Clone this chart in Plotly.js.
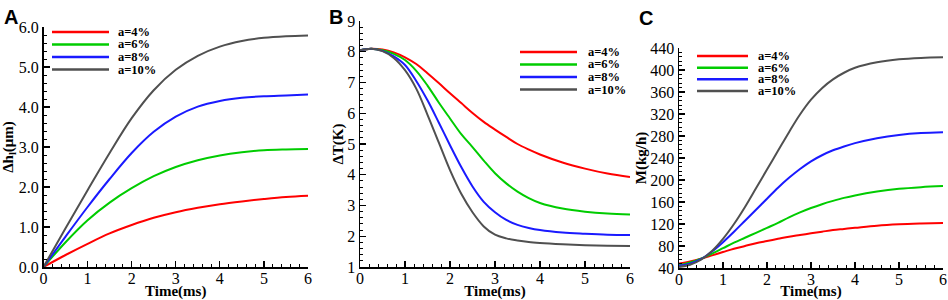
<!DOCTYPE html>
<html>
<head>
<meta charset="utf-8">
<script src="https://cdn.plot.ly/plotly-3.0.1.min.js"></script>
<style>html,body{margin:0;padding:0;background:#fff;}#chart{width:948px;height:300px;}</style>
</head>
<body>
<div id="chart"></div>
<script>
// ---------- data ----------
const seriesLabels = ["a=4%", "a=6%", "a=8%", "a=10%"];
const seriesColors = ["#ff0000", "#00cc00", "#1a1aff", "#505050"];

// Panel A: Δh_l (μm) vs time (ms)
const timeA = [0, 0.5, 1, 1.5, 2, 2.5, 3, 3.5, 4, 4.5, 5, 5.5, 6];
const dhA4  = [0, 0.30, 0.58, 0.84, 1.05, 1.23, 1.37, 1.48, 1.57, 1.64, 1.70, 1.75, 1.78];
const dhA6  = [0, 0.62, 1.17, 1.61, 1.97, 2.27, 2.50, 2.67, 2.79, 2.87, 2.92, 2.94, 2.95];
const dhA8  = [0, 0.76, 1.50, 2.20, 2.85, 3.38, 3.76, 4.01, 4.15, 4.23, 4.27, 4.29, 4.31];
const dhA10 = [0, 0.97, 1.92, 2.85, 3.72, 4.42, 4.93, 5.28, 5.51, 5.65, 5.73, 5.77, 5.79];

// Panel B: ΔT (K) vs time (ms)
const timeB = [0, 0.25, 0.5, 0.75, 1, 1.25, 1.5, 1.75, 2, 2.25, 2.5, 2.75, 3, 3.25, 3.5, 3.75, 4, 4.5, 5, 5.5, 6];
const dtB4  = [8.05, 8.10, 8.07, 7.98, 7.82, 7.60, 7.30, 6.98, 6.65, 6.33, 6.01, 5.72, 5.47, 5.23, 5.00, 4.82, 4.66, 4.40, 4.20, 4.04, 3.93];
const dtB6  = [8.05, 8.10, 8.05, 7.93, 7.73, 7.38, 6.90, 6.35, 5.83, 5.32, 4.90, 4.46, 4.05, 3.72, 3.45, 3.24, 3.08, 2.90, 2.80, 2.74, 2.71];
const dtB8  = [8.05, 8.10, 8.03, 7.85, 7.57, 7.05, 6.42, 5.70, 4.96, 4.25, 3.62, 3.12, 2.78, 2.53, 2.37, 2.27, 2.20, 2.12, 2.08, 2.05, 2.04];
const dtB10 = [8.05, 8.10, 8.02, 7.80, 7.40, 6.80, 5.95, 5.05, 4.15, 3.38, 2.78, 2.32, 2.05, 1.93, 1.86, 1.81, 1.78, 1.74, 1.71, 1.69, 1.68];

// Panel C: M (kg/h) vs time (ms)
const timeC = [0, 0.25, 0.5, 0.75, 1, 1.25, 1.5, 1.75, 2, 2.25, 2.5, 2.75, 3, 3.25, 3.5, 3.75, 4, 4.5, 5, 5.5, 6];
const mC4  = [48, 52, 57, 63, 69, 75, 80, 85, 89, 93, 97, 100, 103, 106, 109, 111, 113, 117, 119.5, 121, 122];
const mC6  = [45, 50, 57, 66, 76, 86, 95, 104, 113, 122, 132, 141, 149, 156, 162, 167.5, 172, 179, 184, 187, 189];
const mC8  = [44, 48, 56, 70, 87, 106, 126, 146, 166, 186, 204, 220, 234, 245, 254, 261, 267, 276, 282, 285.5, 287];
const mC10 = [42, 46, 55, 71, 93, 120, 151, 185, 219, 253, 287, 319, 346, 367, 383, 395, 404, 414, 419.5, 422, 423];

// tick labels
const tickTime = [0, 1, 2, 3, 4, 5, 6];
const tickA = [0, 1, 2, 3, 4, 5, 6];
const tickB = [1, 2, 3, 4, 5, 6, 7, 8, 9];
const tickC = [40, 80, 120, 160, 200, 240, 280, 320, 360, 400, 440];

// ---------- build ----------
const W = 948, H = 300;
const px = v => v / W;
const py = v => 1 - v / H;

const panels = [
  {x: timeA, ys: [dhA4, dhA6, dhA8, dhA10], xa: 'x', ya: 'y'},
  {x: timeB, ys: [dtB4, dtB6, dtB8, dtB10], xa: 'x2', ya: 'y2'},
  {x: timeC, ys: [mC4, mC6, mC8, mC10], xa: 'x3', ya: 'y3'}
];

const traces = [];
panels.forEach(p => {
  p.ys.forEach((y, i) => {
    traces.push({
      type: 'scatter', mode: 'lines', x: p.x, y: y,
      xaxis: p.xa, yaxis: p.ya, name: seriesLabels[i],
      line: {color: seriesColors[i], width: 2, shape: 'spline', smoothing: 1},
      showlegend: false, hoverinfo: 'x+y'
    });
  });
});

const tickFont = {family: 'Liberation Serif, Times New Roman, serif', size: 16, color: '#000'};
const titleFont = {family: 'Liberation Serif, Times New Roman, serif', size: 15, color: '#000', weight: 'bold'};

function xAxis(dom, anchor) {
  return {
    domain: dom, anchor: anchor, range: [0, 6], tickvals: tickTime,
    ticktext: tickTime.map(String),
    showline: true, linecolor: '#000', linewidth: 1.5, showgrid: false, zeroline: false,
    ticks: 'inside', ticklen: 6, tickwidth: 1.3, tickcolor: '#000',
    minor: {dtick: 0.2, ticklen: 3, tickwidth: 1, tickcolor: '#000', ticks: 'inside', showgrid: false},
    tickfont: tickFont, automargin: false, ticklabelstandoff: -4,
    title: {text: '<b>Time(ms)</b>', font: titleFont, standoff: 3}
  };
}
function yAxis(dom, anchor, range, vals, fmt, minorStep, title, standoff) {
  return {
    domain: dom, anchor: anchor, range: range, tickvals: vals,
    ticktext: vals.map(fmt),
    showline: true, linecolor: '#000', linewidth: 1.5, showgrid: false, zeroline: false,
    ticks: 'inside', ticklen: 6, tickwidth: 1.3, tickcolor: '#000',
    minor: {dtick: minorStep, ticklen: 3, tickwidth: 1, tickcolor: '#000', ticks: 'inside', showgrid: false},
    tickfont: tickFont, automargin: false,
    title: {text: title, font: titleFont, standoff: standoff}
  };
}

const layout = {
  width: W, height: H,
  margin: {l: 0, r: 0, t: 0, b: 0},
  paper_bgcolor: '#fff', plot_bgcolor: 'rgba(0,0,0,0)',
  showlegend: false,
  xaxis:  xAxis([px(43.5), px(308)], 'y'),
  xaxis2: xAxis([px(360), px(630)], 'y2'),
  xaxis3: xAxis([px(679), px(943)], 'y3'),
  yaxis:  yAxis([py(267), py(27)], 'x', [0, 6], tickA, v => v.toFixed(1), 0.2, '<b>Δh<sub>l</sub>(μm)</b>', 2),
  yaxis2: yAxis([py(267), py(21)], 'x2', [1, 9], tickB, v => String(v), 0.2, '<b>ΔT(K)</b>', 0),
  yaxis3: yAxis([py(268), py(48)], 'x3', [40, 440], tickC, v => String(v), 8, '<b>M(kg/h)</b>', 0),
  shapes: [], annotations: []
};

// panel letters
const letters = [['A', 2, 4], ['B', 327, 4], ['C', 637, 5]];
letters.forEach(([t, x, y]) => {
  layout.annotations.push({
    text: '<b>' + t + '</b>', xref: 'paper', yref: 'paper', x: px(x), y: py(y),
    xanchor: 'left', yanchor: 'top', showarrow: false,
    font: {family: 'Liberation Sans, Arial, sans-serif', size: 20, color: '#000'}
  });
});

// legends (one per panel)
const legendPos = [
  {x0: 52, x1: 109, tx: 116, rows: [32, 44.5, 57, 69.5]},
  {x0: 520, x1: 577, tx: 586, rows: [52, 64.5, 77, 89.5]},
  {x0: 697, x1: 748, tx: 756, rows: [56, 67.7, 79.3, 91]}
];
legendPos.forEach(lp => {
  seriesLabels.forEach((lab, i) => {
    layout.shapes.push({
      type: 'line', xref: 'paper', yref: 'paper',
      x0: px(lp.x0), x1: px(lp.x1), y0: py(lp.rows[i]), y1: py(lp.rows[i]),
      line: {color: seriesColors[i], width: 2.5}
    });
    layout.annotations.push({
      text: '<b>' + lab + '</b>', xref: 'paper', yref: 'paper',
      x: px(lp.tx), y: py(lp.rows[i]), xanchor: 'left', yanchor: 'middle',
      showarrow: false,
      font: {family: 'Liberation Serif, Times New Roman, serif', size: 12.5, color: '#000'}
    });
  });
});

Plotly.newPlot('chart', traces, layout, {displayModeBar: false, staticPlot: true});
</script>
</body>
</html>
